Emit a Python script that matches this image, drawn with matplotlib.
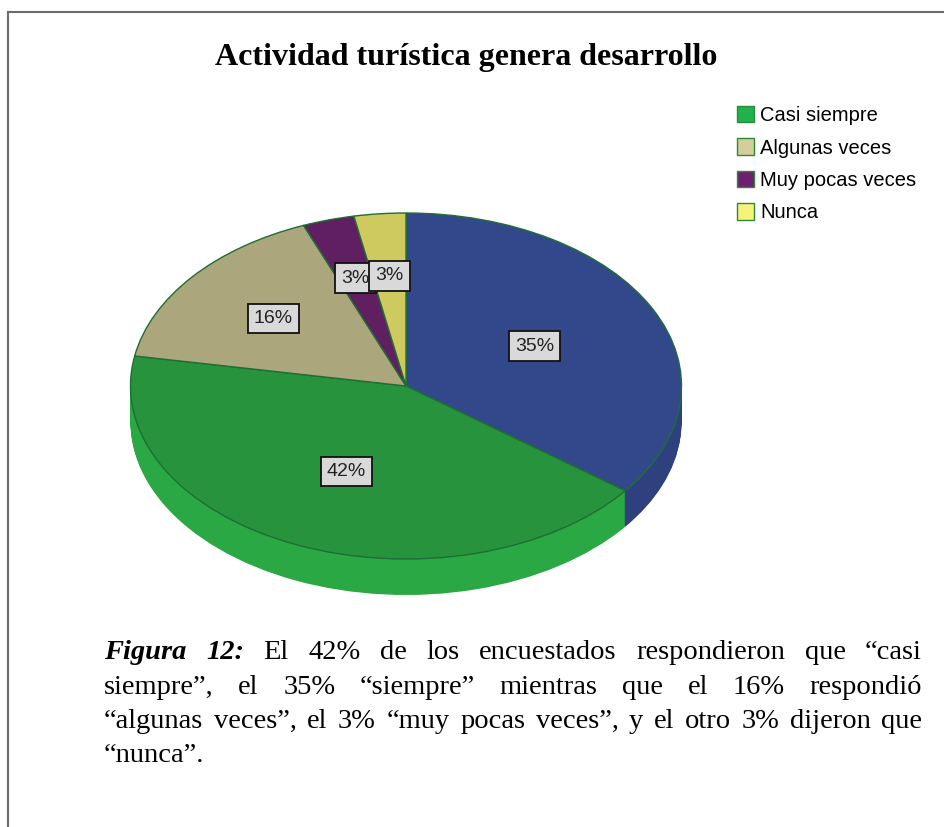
import numpy as np
import matplotlib
matplotlib.use('Agg')
import matplotlib.pyplot as plt
from matplotlib.patches import Patch
from matplotlib.lines import Line2D

# datos
titulo = 'Actividad turística genera desarrollo'
categorias = ['Siempre', 'Casi siempre', 'Algunas veces', 'Muy pocas veces', 'Nunca']
porcentajes = [35, 42, 16, 3, 3]
colores_top = ['#33488a', '#27933c', '#aba67b', '#5f1f60', '#cfca60']
colores_lado = ['#2e417e', '#2aa843', '#9c976f', '#551c56', '#bdb855']
# la leyenda del original solo muestra cuatro categorias
leyenda_cats = categorias[1:]
leyenda_colores = ['#22b24c', '#d6cd9c', '#6e2070', '#f7f27a']

caption_lineas = [
    ['Figura', '12:', 'El', '42%', 'de', 'los', 'encuestados', 'respondieron', 'que', '“casi'],
    ['siempre”,', 'el', '35%', '“siempre”', 'mientras', 'que', 'el', '16%', 'respondió'],
    ['“algunas', 'veces”,', 'el', '3%', '“muy', 'pocas', 'veces”,', 'y', 'el', 'otro', '3%',
     'dijeron', 'que'],
    ['“nunca”.'],
]

W, H = 945, 827
fig = plt.figure(figsize=(W / 100, H / 100), dpi=100)
fig.patch.set_facecolor('white')

# geometria del pastel en pixeles (elipse en perspectiva)
cx, cy = 406, 386
rx, ry = 275.5, 173
depth = 36
xlim = (-1.2, 1.2)
ylim = (-1.4, 1.2)
left = cx + xlim[0] * rx
right = cx + xlim[1] * rx
top = cy - ylim[1] * ry
bottom = cy - ylim[0] * ry
ax = fig.add_axes([left / W, 1 - bottom / H, (right - left) / W, (bottom - top) / H])

# lateral del pastel: capas apiladas
d = depth / ry
n = 40
for k in range(n):
    yc = -d + d * k / n
    ax.pie(porcentajes, colors=colores_lado, startangle=90, counterclock=False,
           center=(0, yc), wedgeprops=dict(linewidth=0))

wedges, _, autotexts = ax.pie(porcentajes, colors=colores_top, startangle=90,
                              counterclock=False, autopct='%1.0f%%', pctdistance=0.6,
                              wedgeprops=dict(edgecolor='#1f6e35', linewidth=1))
ax.set_aspect('auto')
ax.set_xlim(xlim)
ax.set_ylim(ylim)

dist = [0.52, 0.54, 0.62, 0.65, 0.64]
for w, t, r in zip(wedges, autotexts, dist):
    mid = np.deg2rad((w.theta1 + w.theta2) / 2)
    t.set_position((r * np.cos(mid), r * np.sin(mid)))
    t.set_fontsize(14)
    t.set_family('Liberation Sans')
    t.set_color('#222222')
    t.set_bbox(dict(boxstyle='square,pad=0.32', facecolor='#d9d9d9', edgecolor='#111111',
                    linewidth=1.3))

# titulo
fig.text(466 / W, 1 - 57 / H, titulo, ha='center', va='center', fontsize=23,
         fontweight='bold', family='Liberation Serif')

# leyenda
handles = [Patch(facecolor=c, edgecolor='#2a8a3a', linewidth=1) for c in leyenda_colores]
fig.legend(handles, leyenda_cats, loc='upper left', bbox_to_anchor=(737 / W, 1 - 106 / H),
           frameon=False, prop={'family': 'Liberation Sans', 'size': 14.5},
           handlelength=0.85, handleheight=0.85, handletextpad=0.3, labelspacing=0.67,
           borderaxespad=0, borderpad=0)

# texto de la figura, justificado
x_izq, x_der = 104, 922
base0, paso = 659, 34.5
renderer = fig.canvas.get_renderer()
for i, palabras in enumerate(caption_lineas):
    yb = 1 - (base0 + i * paso) / H
    textos = []
    for j, p in enumerate(palabras):
        negrita = (i == 0 and j < 2)
        t = fig.text(0, yb, p, ha='left', va='baseline', fontsize=20.5,
                     family='Liberation Serif',
                     fontweight='bold' if negrita else 'normal',
                     fontstyle='italic' if negrita else 'normal')
        textos.append(t)
    anchos = [t.get_window_extent(renderer).width for t in textos]
    if i < len(caption_lineas) - 1 and len(textos) > 1:
        hueco = (x_der - x_izq - sum(anchos)) / (len(textos) - 1)
    else:
        hueco = 6
    x = x_izq
    for t, a in zip(textos, anchos):
        t.set_x(x / W)
        x += a + hueco

# marco
fig.add_artist(Line2D([8 / W, 8 / W], [0, 1 - 12 / H], transform=fig.transFigure,
                      color='#6b6b6b', linewidth=1.5))
fig.add_artist(Line2D([8 / W, 1], [1 - 12 / H, 1 - 12 / H], transform=fig.transFigure,
                      color='#6b6b6b', linewidth=1.5))

fig.savefig('out.png', dpi=100)
